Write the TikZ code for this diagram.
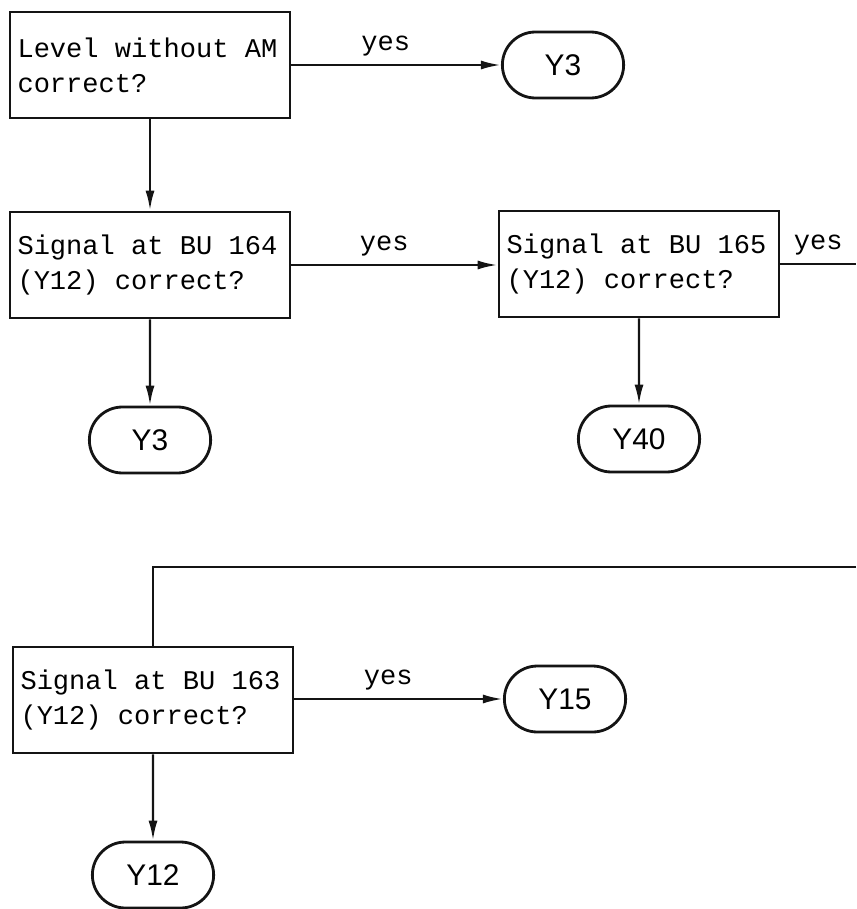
\documentclass[tikz,border=0pt]{standalone}
\usepackage{fontspec}
\setmonofont{Liberation Mono}
\setsansfont{Liberation Sans}
\usepackage{tikz}
\usetikzlibrary{arrows.meta,positioning,shapes.misc}
\definecolor{inkcolor}{RGB}{20,20,20}

\begin{document}
\begin{tikzpicture}[x=0.02cm, y=-0.02cm,
    query/.style={draw=inkcolor, line width=1.6pt, minimum width=5.6cm, minimum height=2.12cm,
      text width=5.3cm, inner xsep=0.15cm, align=left, font=\ttfamily\fontsize{15.4}{20}\selectfont,
      execute at begin node={\spaceskip=0pt\xspaceskip=0pt\relax}},
    goal/.style={draw=inkcolor, line width=1.6pt, rounded rectangle, minimum width=2.66cm,
      minimum height=1.32cm, font=\sffamily\fontsize{17}{18}\selectfont},
    flow/.style={draw=inkcolor, line width=1.4pt, -{Latex[length=0.4cm,width=0.18cm]}},
    wire/.style={draw=inkcolor, line width=1.4pt},
    yeslab/.style={above=1pt, font=\ttfamily\fontsize{15.4}{18}\selectfont}]
        \useasboundingbox (0,0) rectangle (856,909);
        % Level check
        \node[query] (chkLevel) at (150,65) {Level without AM\\correct?};
        \node[goal] (outY3a) at (563,65) {Y3};
        \draw[flow] (chkLevel) -- node[yeslab, pos=0.45]{yes} (outY3a);
        % BU 164 and BU 165
        \node[query] (chkBUa) at (150,265) {Signal at BU 164\\(Y12) correct?};
        \node[query] (chkBUb) at (639,264) {Signal at BU 165\\(Y12) correct?};
        \node[goal] (outY3b) at (150,440) {Y3};
        \node[goal] (outY40) at (639,439) {Y40};
        \draw[flow] (chkLevel) -- (chkBUa);
        \draw[flow] (chkBUa.east) -- node[yeslab, pos=0.45]{yes} (chkBUb.west |- chkBUa.east);
        \draw[flow] (chkBUa) -- (outY3b);
        \draw[flow] (chkBUb) -- (outY40);
        % yes from BU 165 leaves the page and comes back
        \coordinate (exitR) at (856,264);
        \coordinate (backR) at (856,567);
        \draw[wire] (chkBUb) -- node[yeslab]{yes} (exitR);
        % BU 163
        \node[query] (chkBUc) at (153,700) {Signal at BU 163\\(Y12) correct?};
        \node[goal] (outY15) at (565,699) {Y15};
        \node[goal] (outY12) at (153,875) {Y12};
        \draw[wire] (backR) -| (chkBUc);
        \draw[flow] (chkBUc.east |- outY15) -- node[yeslab, pos=0.45]{yes} (outY15);
        \draw[flow] (chkBUc) -- (outY12);
      \end{tikzpicture}
\end{document}
